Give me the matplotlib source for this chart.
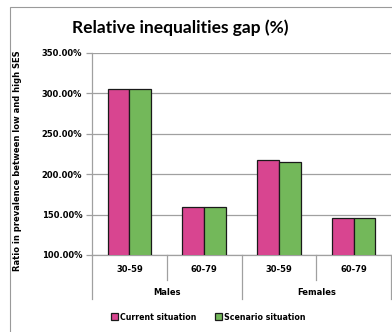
import matplotlib
matplotlib.use('Agg')
import matplotlib.pyplot as plt
import matplotlib.transforms as mtransforms
from matplotlib.patches import Rectangle, Patch
import numpy as np

plt.rcParams['font.family'] = ['DejaVu Sans']

age_groups = ['30-59', '60-79', '30-59', '60-79']
sexes = ['Males', 'Females']
current = [306.0, 160.0, 217.0, 146.0]
scenario = [305.0, 160.0, 215.0, 146.0]
yticks = [100, 150, 200, 250, 300, 350]

PINK = '#d84590'
GREEN = '#73b85a'
GRID = '#a0a0a0'
EDGE = '#1a1a1a'
SMALL = 6

fig = plt.figure(figsize=(3.92, 3.32), dpi=100)

# outer chart frame (runs off the right/bottom edges)
fig.patches.append(Rectangle((10 / 392, -0.1), 1.2, 1 - 7 / 332 + 0.1,
                             transform=fig.transFigure, fill=False,
                             edgecolor='#9a9a9a', linewidth=0.8))

ax = fig.add_axes([92 / 392, 1 - 255 / 332, 299 / 392, 202 / 332])

x = np.arange(len(age_groups))
w = 0.29
ax.bar(x - w / 2, current, w, color=PINK, edgecolor=EDGE, linewidth=0.9,
       label='Current situation', zorder=3)
ax.bar(x + w / 2, scenario, w, color=GREEN, edgecolor=EDGE, linewidth=0.9,
       label='Scenario situation', zorder=3)

ax.set_ylim(100, 350)
ax.set_xlim(-0.5, len(age_groups) - 0.5)
ax.set_yticks(yticks)
ax.set_yticklabels(['%.2f%%' % v for v in yticks], fontsize=SMALL, fontweight='bold')
ax.yaxis.grid(True, color=GRID, linewidth=0.9, zorder=0)
ax.tick_params(axis='y', length=4, width=0.9, color=GRID, pad=3)
ax.set_xticks([])

for side in ['top', 'right']:
    ax.spines[side].set_visible(False)
for side in ['left', 'bottom']:
    ax.spines[side].set_color(GRID)
    ax.spines[side].set_linewidth(0.9)

# two-level category axis
trans = mtransforms.blended_transform_factory(ax.transData, ax.transAxes)
for i, lab in enumerate(age_groups):
    ax.text(i, -0.074, lab, transform=trans, ha='center', va='center',
            fontsize=SMALL, fontweight='bold')
for pos in [0.5, 2.5]:
    ax.plot([pos, pos], [0, -0.124], transform=trans, color=GRID,
            linewidth=0.9, clip_on=False)
for pos in [-0.5, 1.5, 3.5]:
    ax.plot([pos, pos], [0, -0.22], transform=trans, color=GRID,
            linewidth=0.9, clip_on=False)
for j, lab in enumerate(sexes):
    ax.text(2 * j + 0.5, -0.188, lab, transform=trans, ha='center', va='center',
            fontsize=SMALL, fontweight='bold')

ax.set_ylabel('Ratio in prevalence between low and high SES', fontsize=SMALL,
              fontweight='bold')
ax.yaxis.set_label_coords(-0.234, 0.465)

fig.text(180 / 392, 1 - 28 / 332, 'Relative inequalities gap (%)', ha='center',
         va='center', fontsize=12.5, fontweight='bold', family='Lato')

handles = [Patch(facecolor=PINK, edgecolor=EDGE, linewidth=0.9),
           Patch(facecolor=GREEN, edgecolor=EDGE, linewidth=0.9)]
fig.legend(handles, ['Current situation', 'Scenario situation'],
           loc='center', bbox_to_anchor=(208 / 392, 1 - 317 / 332), ncol=2,
           frameon=False, prop={'size': 5.7, 'weight': 'bold'},
           handlelength=0.9, handleheight=0.9, handletextpad=0.25,
           columnspacing=2.3)

fig.savefig('out.png', dpi=100)
